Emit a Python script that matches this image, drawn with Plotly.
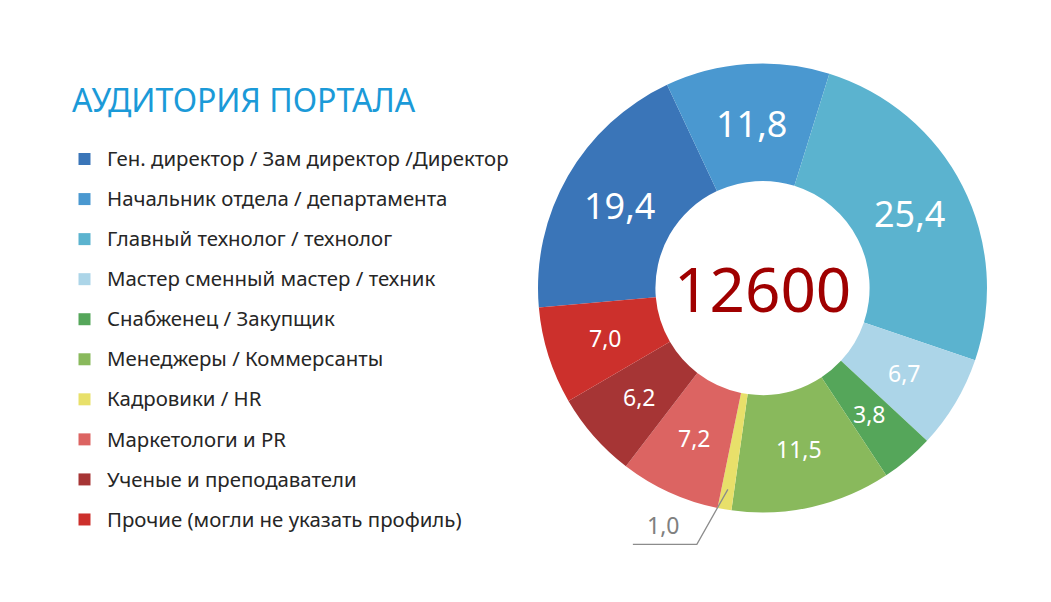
import math
import plotly.graph_objects as go

W, H = 1051, 602

categories = [
    "Ген. директор / Зам директор /Директор",
    "Начальник отдела / департамента",
    "Главный технолог / технолог",
    "Мастер сменный мастер / техник",
    "Снабженец / Закупщик",
    "Менеджеры / Коммерсанты",
    "Кадровики / HR",
    "Маркетологи и PR",
    "Ученые и преподаватели",
    "Прочие (могли не указать профиль)",
]
values = [19.4, 11.8, 25.4, 6.7, 3.8, 11.5, 1.0, 7.2, 6.2, 7.0]
value_labels = ["19,4", "11,8", "25,4", "6,7", "3,8", "11,5", "1,0", "7,2", "6,2", "7,0"]
colors = ["#3a75b8", "#4a98d0", "#5bb3cf", "#acd5e8", "#55a65a",
          "#89b95c", "#e8e06a", "#dc6462", "#a63535", "#cc302c"]
label_sizes = [36, 36, 36, 23, 23, 23, 23, 23, 23, 23]
total = "12600"
title_text = "АУДИТОРИЯ ПОРТАЛА"

FONT = "Noto Sans, Open Sans, DejaVu Sans, sans-serif"

# donut geometry (pixels)
cx, cy, R = 762.5, 288.0, 224.5
hole = 0.477
rotation = 265.0

fig = go.Figure()
fig.add_trace(go.Pie(
    labels=[f'<span style="font-size:20.4px;baseline-shift:4px">{c}</span>' for c in categories],
    values=values,
    customdata=categories,
    hovertemplate="%{customdata}: %{value}<extra></extra>",
    marker=dict(colors=colors, line=dict(width=0)),
    hole=hole,
    sort=False,
    direction="clockwise",
    rotation=rotation,
    textinfo="none",
    domain=dict(x=[(cx - R) / W, (cx + R) / W], y=[1 - (cy + R) / H, 1 - (cy - R) / H]),
))

annotations = []
shapes = []
tot = sum(values)
cum = 0.0
r_lab = 165.0
for v, lab, sz in zip(values, value_labels, label_sizes):
    mid = math.radians(rotation + 360.0 * (cum + v / 2) / tot)
    cum += v
    if v < 2:
        # small slice: outside label with leader line
        ax_ = cx + 0.91 * R * math.sin(mid)
        ay_ = cy - 0.91 * R * math.cos(mid)
        ex, ey = ax_ - 31, ay_ + 55
        fx = ex - 64
        shapes.append(dict(
            type="path", xref="paper", yref="paper",
            path=f"M{ax_ / W},{1 - ay_ / H} L{ex / W},{1 - ey / H} L{fx / W},{1 - ey / H}",
            line=dict(color="#8c8c8c", width=1.3),
        ))
        annotations.append(dict(
            x=(ex - 34) / W, y=1 - (ey - 1) / H, xref="paper", yref="paper",
            text=lab, showarrow=False, xanchor="center", yanchor="bottom",
            font=dict(family=FONT, size=sz, color="#808080"),
        ))
        continue
    x = cx + r_lab * math.sin(mid)
    y = cy - r_lab * math.cos(mid)
    annotations.append(dict(
        x=x / W, y=1 - y / H, xref="paper", yref="paper",
        text=lab, showarrow=False, xanchor="center", yanchor="middle",
        font=dict(family=FONT, size=sz, color="white"),
    ))

# center total
annotations.append(dict(
    x=cx / W, y=1 - cy / H, xref="paper", yref="paper",
    text=total, showarrow=False, xanchor="center", yanchor="middle",
    font=dict(family=FONT, size=62, color="#a00000"),
))
# title
annotations.append(dict(
    x=70 / W, y=1 - 100 / H, xref="paper", yref="paper",
    text=title_text, showarrow=False, xanchor="left", yanchor="middle",
    font=dict(family=FONT, size=32, color="#1b9ad8"),
))

fig.update_layout(
    width=W, height=H,
    margin=dict(l=0, r=0, t=0, b=0),
    paper_bgcolor="white", plot_bgcolor="white",
    font=dict(family=FONT, color="#262626"),
    showlegend=True,
    legend=dict(
        x=62 / W, y=1 - 134 / H, xanchor="left", yanchor="top",
        font=dict(family=FONT, size=28.5, color="#262626"),
        itemwidth=35,
        bgcolor="rgba(0,0,0,0)",
    ),
    annotations=annotations,
    shapes=shapes,
)

fig.write_html("out.html", config={"displayModeBar": False},
               post_script="document.body.style.margin='0';")
